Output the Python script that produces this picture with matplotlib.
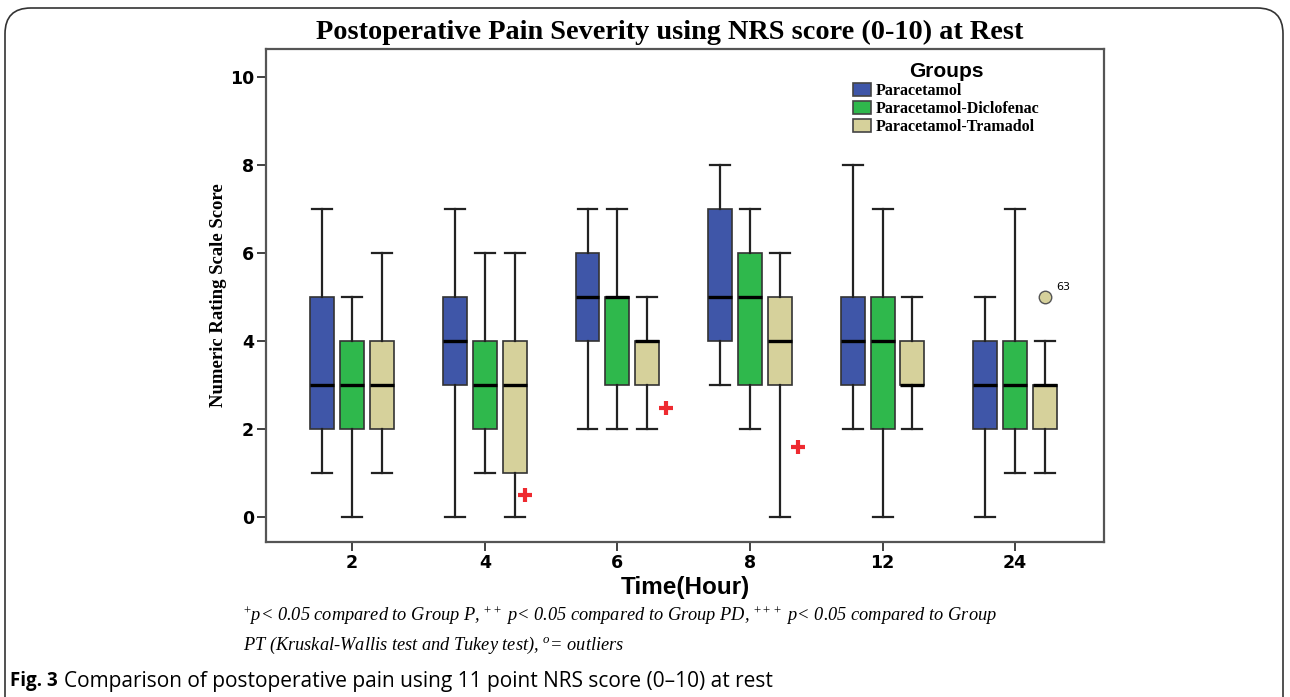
import numpy as np
import matplotlib
matplotlib.use('Agg')
import matplotlib.pyplot as plt
from matplotlib.patches import Patch, FancyBboxPatch

plt.rcParams['mathtext.fontset'] = 'custom'
plt.rcParams['mathtext.rm'] = 'Liberation Serif'
plt.rcParams['mathtext.it'] = 'Liberation Serif:italic'

# data: whisker low, q1, median, q3, whisker high
hours = ['2', '4', '6', '8', '12', '24']
groups = ['Paracetamol', 'Paracetamol-Diclofenac', 'Paracetamol-Tramadol']
colors = ['#3F56A8', '#2FB84C', '#D6D19B']

p_stats = [(1, 2, 3, 5, 7), (0, 3, 4, 5, 7), (2, 4, 5, 6, 7),
           (3, 4, 5, 7, 8), (2, 3, 4, 5, 8), (0, 2, 3, 4, 5)]
pd_stats = [(0, 2, 3, 4, 5), (1, 2, 3, 4, 6), (2, 3, 5, 5, 7),
            (2, 3, 5, 6, 7), (0, 2, 4, 5, 7), (1, 2, 3, 4, 7)]
pt_stats = [(1, 2, 3, 4, 6), (0, 1, 3, 4, 6), (2, 3, 4, 4, 5),
            (0, 3, 4, 5, 6), (2, 3, 3, 4, 5), (1, 2, 3, 3, 4)]

# significance markers (position along hour axis, value) and outlier
plus_x = [1.30, 2.37, 3.36]
plus_val = [0.5, 2.47, 1.58]
outlier_idx = 5
outlier_val = 5
outlier_label = '63'

fig = plt.figure(figsize=(12.9, 6.97), dpi=100)
ax = fig.add_axes([266 / 1290, 1 - 542 / 697, (1104 - 266) / 1290, (542 - 49) / 697])

offsets = [-0.225, 0, 0.225]
x = np.arange(len(hours))
for g, (stats_list, col, off) in enumerate(zip([p_stats, pd_stats, pt_stats], colors, offsets)):
    stats = []
    for lo, q1, med, q3, hi in stats_list:
        stats.append(dict(whislo=lo, q1=q1, med=med, q3=q3, whishi=hi, fliers=[]))
    ax.bxp(stats, positions=x + off, widths=0.18, capwidths=0.15, patch_artist=True,
           showfliers=False, manage_ticks=False,
           boxprops=dict(facecolor=col, edgecolor='#333333', linewidth=1.2),
           medianprops=dict(color='black', linewidth=2.4),
           whiskerprops=dict(color='#222222', linewidth=1.6),
           capprops=dict(color='#222222', linewidth=1.6))

ax.plot(plus_x, plus_val, linestyle='none', marker='+',
        color='#EE2A30', markersize=10, markeredgewidth=3)
ax.plot(outlier_idx + offsets[2], outlier_val, linestyle='none', marker='o',
        markerfacecolor=colors[2], markeredgecolor='#555555', markersize=9)
ax.annotate(outlier_label, (outlier_idx + offsets[2], outlier_val), xytext=(8, 5),
            textcoords='offset points', fontsize=8, family='DejaVu Sans')

ax.set_xlim(-0.65, 5.67)
ax.set_ylim(-0.57, 10.63)
ax.set_xticks(x)
ax.set_xticklabels(hours)
ax.set_yticks([0, 2, 4, 6, 8, 10])
for lab in ax.get_xticklabels() + ax.get_yticklabels():
    lab.set_fontfamily('DejaVu Sans')
    lab.set_fontweight('bold')
    lab.set_fontsize(12.5)
ax.tick_params(direction='out', length=6.5, width=1.3, color='#333333', pad=2)
for sp in ax.spines.values():
    sp.set_color('#555555')
    sp.set_linewidth(1.6)

ax.set_ylabel('Numeric Rating Scale Score', family='Liberation Serif',
              fontweight='bold', fontsize=13.5, labelpad=2)
ax.set_xlabel('Time(Hour)', family='Liberation Sans', fontweight='bold',
              fontsize=17.5, labelpad=3)

handles = [Patch(facecolor=c, edgecolor='#444444', linewidth=1.2) for c in colors]
leg = ax.legend(handles, groups, title='Groups', loc='upper left',
                bbox_to_anchor=(845 / 1290, 1 - 54 / 697), bbox_transform=fig.transFigure,
                frameon=False, borderpad=0, handlelength=1.15, handleheight=0.9,
                handletextpad=0.3, labelspacing=0.12,
                prop=dict(family='Liberation Serif', weight='bold', size=11.5),
                title_fontproperties=dict(family='Liberation Sans', weight='bold', size=15))

fig.text(670 / 1290, 1 - 32 / 697, 'Postoperative Pain Severity using NRS score (0-10) at Rest',
         ha='center', va='center', family='Liberation Serif', fontweight='bold', fontsize=20.3)

fig.text(243 / 1290, 1 - 616 / 697,
         r'$^{+}$p< 0.05 compared to Group P, $^{++}$ p< 0.05 compared to Group PD, '
         r'$^{+++}$ p< 0.05 compared to Group',
         ha='left', va='center', family='Liberation Serif', style='italic', fontsize=13.2)
fig.text(243 / 1290, 1 - 645 / 697,
         r'PT (Kruskal-Wallis test and Tukey test), $^{o}$= outliers',
         ha='left', va='center', family='Liberation Serif', style='italic', fontsize=13.2)

fig.text(10 / 1290, 1 - 681 / 697, 'Fig. 3', ha='left', va='center',
         family='Open Sans', fontweight='bold', fontsize=13.5)
fig.text(64 / 1290, 1 - 681 / 697,
         'Comparison of postoperative pain using 11 point NRS score (0\u201310) at rest',
         ha='left', va='center', family='Open Sans', fontsize=15)

frame = FancyBboxPatch((5 / 1290, -0.05), 1278 / 1290, 1.05 - 8 / 697,
                       boxstyle='round,pad=0,rounding_size=0.02',
                       transform=fig.transFigure, facecolor='none',
                       edgecolor='#333333', linewidth=1.2, mutation_aspect=1290 / 697)
fig.patches.append(frame)

fig.savefig('out.png', dpi=100)
